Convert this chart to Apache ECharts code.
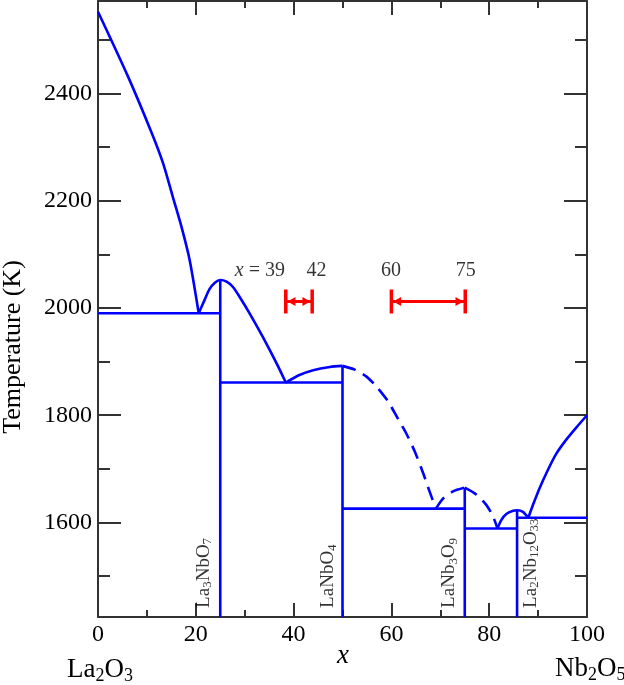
<!DOCTYPE html>
<html>
<head>
<meta charset="utf-8">
<script src="https://cdn.jsdelivr.net/npm/echarts@6/dist/echarts.min.js"></script>
<style>
html,body{margin:0;padding:0;background:#fff;}
#chart{width:624px;height:685px;}
</style>
</head>
<body>
<div id="chart"></div>
<script>
// ---------- data ----------
const xMin = 0, xMax = 100, xStep = 20;
const yMin = 1424, yMax = 2572;
const yMajorTicks = [1600, 1800, 2000, 2200, 2400];
const yMinorTicks = [1500, 1700, 1900, 2100, 2300, 2500];

// liquidus branches [x, T]
const liqLa2O3 = [[0,2552],[6.1,2432],[10.9,2328],[13.3,2270],[15.3,2207],[17.05,2152],[18.75,2089],[20.6,1990]];
const liqLa3NbO7 = [[20.6,1990],[21.8,2015],[22.8,2035],[23.9,2047],[25,2052],[26.3,2049],[27.6,2039],[29,2020],[31,1990],[33.7,1946],[36.5,1897],[38.4,1861]];
const liqLaNbO4L = [[38.4,1861],[41.2,1875],[44,1884],[47.4,1890],[50,1892]];
const liqLaNbO4R = [[50,1892],[52.5,1885],[54.9,1872],[56.9,1854],[59.3,1826],[61.3,1794],[63.1,1765],[64.8,1732],[66.5,1692],[67.8,1658],[69.1,1626]];
const liqLaNb3O9L = [[69.1,1626],[70.6,1645],[72.6,1658],[75,1665]];
const liqLaNb3O9R = [[75,1665],[77.4,1652],[79.4,1633],[80.8,1611],[81.7,1589]];
const liqLa2Nb12O33 = [[81.7,1589],[82.5,1605],[83.5,1616],[84.9,1622],[85.7,1623],[86.9,1620],[88,1609]];
const liqNb2O5 = [[88,1609],[89,1634],[90.3,1664],[92,1698],[93.7,1728],[95.8,1755],[97.8,1777],[100,1800]];

// solidus (eutectic) lines: [xStart, xEnd, T]
const solidus = [[0,25,1990],[25,50,1861],[50,75,1626],[75,85.7,1589],[85.7,100,1609]];

// compounds
const compoundNames = ['La3NbO7', 'LaNbO4', 'LaNb3O9', 'La2Nb12O33'];
const compoundX = [25, 50, 75, 85.7];
const compoundTop = [2052, 1892, 1665, 1623];
const compoundLabelX = [21.6, 47.1, 71.8, 88.5];
const compoundLabelT = [1441, 1441, 1441, 1441];

// red range arrows: [xStart, xEnd, T]
const arrowSpans = [[38.4, 43.8, 2012], [60, 75.1, 2012]];
const annoText = ['x = 39', '42', '60', '75'];
const annoX = [33.1, 44.7, 59.9, 75.2];
const annoT = [2070, 2070, 2070, 2070];

// ---------- chart ----------
const FONT = '"Liberation Serif", "Times New Roman", Times, serif';
const AX = '#333';
const BLUE = '#0000ff';
const RED = '#ff0000';

function chem(s) {
  return s.split(/(\d+)/).filter(t => t.length).map(t => /^\d+$/.test(t) ? '{s|' + t + '}' : '{m|' + t + '}').join('');
}

function lineSeries(data, dashed, smooth) {
  return {
    type: 'line', data: data, showSymbol: false, symbol: 'none', silent: true,
    animation: false, clip: false, z: 3,
    smooth: smooth ? 0.25 : false,
    lineStyle: { color: BLUE, width: 2.6, type: dashed ? [14, 8] : 'solid', join: 'round' }
  };
}

const series = [];
series.push(lineSeries(liqLa2O3, false, true));
series.push(lineSeries(liqLa3NbO7, false, true));
series.push(lineSeries(liqLaNbO4L, false, true));
series.push(lineSeries(liqLaNbO4R, true, true));
series.push(lineSeries(liqLaNb3O9L, true, true));
series.push(lineSeries(liqLaNb3O9R, true, true));
series.push(lineSeries(liqLa2Nb12O33, false, true));
series.push(lineSeries(liqNb2O5, false, true));
solidus.forEach(s => series.push(lineSeries([[s[0], s[2]], [s[1], s[2]]], false, false)));
compoundX.forEach((x, i) => series.push(lineSeries([[x, compoundTop[i]], [x, yMin]], false, false)));

series.push({
  type: 'custom', data: arrowSpans, silent: true, animation: false, z: 4, clip: false,
  renderItem: function (params, api) {
    const y = api.value(2);
    const p1 = api.coord([api.value(0), y]);
    const p2 = api.coord([api.value(1), y]);
    const bh = 12, bw = 3.5, ah = 8, aw = 4.5;
    return {
      type: 'group', children: [
        { type: 'line', shape: { x1: p1[0], y1: p1[1], x2: p2[0], y2: p2[1] }, style: { stroke: RED, lineWidth: 3 } },
        { type: 'rect', shape: { x: p1[0] - bw / 2, y: p1[1] - bh, width: bw, height: 2 * bh }, style: { fill: RED } },
        { type: 'rect', shape: { x: p2[0] - bw / 2, y: p2[1] - bh, width: bw, height: 2 * bh }, style: { fill: RED } },
        { type: 'polygon', shape: { points: [[p1[0] + bw / 2, p1[1]], [p1[0] + bw / 2 + ah, p1[1] - aw], [p1[0] + bw / 2 + ah, p1[1] + aw]] }, style: { fill: RED } },
        { type: 'polygon', shape: { points: [[p2[0] - bw / 2, p2[1]], [p2[0] - bw / 2 - ah, p2[1] - aw], [p2[0] - bw / 2 - ah, p2[1] + aw]] }, style: { fill: RED } }
      ]
    };
  }
});

series.push({
  type: 'scatter', silent: true, animation: false, symbolSize: 1, z: 5,
  itemStyle: { color: 'rgba(0,0,0,0)' },
  data: annoText.map((t, i) => ({ name: t, value: [annoX[i], annoT[i]] })),
  label: {
    show: true, position: 'inside', align: 'center', verticalAlign: 'middle',
    color: '#000', fontSize: 20, fontFamily: FONT,
    formatter: p => p.name.replace(/^x/, '{i|x}'),
    rich: { i: { fontStyle: 'italic', fontSize: 20, fontFamily: FONT, color: '#000' } }
  }
});

series.push({
  type: 'scatter', silent: true, animation: false, symbolSize: 1, z: 5,
  itemStyle: { color: 'rgba(0,0,0,0)' },
  data: compoundNames.map((n, i) => ({ name: n, value: [compoundLabelX[i], compoundLabelT[i]] })),
  label: {
    show: true, position: 'inside', rotate: 90, align: 'left', verticalAlign: 'middle',
    color: '#000', fontSize: 19, fontFamily: FONT,
    formatter: p => chem(p.name),
    rich: {
      m: { fontSize: 19, fontFamily: FONT, color: '#000' },
      s: { fontSize: 13, fontFamily: FONT, color: '#000', padding: [8, 0, 0, 0] }
    }
  }
});

const tickStyle = { color: AX, width: 2 };
function xAx(pos, labels) {
  return {
    type: 'value', min: xMin, max: xMax, interval: xStep, position: pos,
    axisLine: { show: true, onZero: false, lineStyle: { color: AX, width: 2 } },
    axisTick: { show: true, inside: true, length: 14, lineStyle: tickStyle },
    minorTick: { show: true, splitNumber: 2, length: 7, lineStyle: tickStyle },
    axisLabel: { show: labels, margin: 6, fontSize: 24, fontFamily: FONT, color: '#000', formatter: v => String(v) },
    splitLine: { show: false }, minorSplitLine: { show: false }
  };
}
function yAx(pos, major, line, labels) {
  const vals = major ? yMajorTicks : yMinorTicks;
  return {
    type: 'value', min: yMin, max: yMax, position: pos,
    axisLine: { show: line, onZero: false, lineStyle: { color: AX, width: 2 } },
    axisTick: { show: true, inside: true, length: major ? 23 : 12, customValues: vals, lineStyle: tickStyle },
    axisLabel: { show: labels, customValues: vals, margin: 6, fontSize: 24, fontFamily: FONT, color: '#000', formatter: v => String(v) },
    splitLine: { show: false }
  };
}

const chart = echarts.init(document.getElementById('chart'), null, { renderer: 'canvas' });
chart.setOption({
  backgroundColor: '#fff',
  animation: false,
  grid: { left: 98, right: 37, top: 1, bottom: 68 },
  xAxis: [xAx('bottom', true), xAx('top', false)],
  yAxis: [yAx('left', true, true, true), yAx('left', false, false, false), yAx('right', true, true, false), yAx('right', false, false, false)],
  series: series,
  graphic: [
    { type: 'text', x: 13, y: 347, rotation: Math.PI / 2, silent: true,
      style: { text: 'Temperature (K)', fontSize: 26, fontFamily: FONT, fill: '#000', align: 'center', verticalAlign: 'middle', textAlign: 'center', textVerticalAlign: 'middle' } },
    { type: 'text', x: 343, y: 656, silent: true,
      style: { text: 'x', fontSize: 27, fontStyle: 'italic', fontFamily: FONT, fill: '#000', align: 'center', verticalAlign: 'middle', textAlign: 'center', textVerticalAlign: 'middle' } },
    { type: 'text', x: 67, y: 670, silent: true,
      style: { text: chem('La2O3'), fill: '#000', fontSize: 27, fontFamily: FONT, align: 'left', verticalAlign: 'middle', textAlign: 'left', textVerticalAlign: 'middle',
        rich: { m: { fontSize: 27, fontFamily: FONT, fill: '#000' }, s: { fontSize: 18, fontFamily: FONT, fill: '#000', padding: [12, 0, 0, 0] } } } },
    { type: 'text', x: 555, y: 669, silent: true,
      style: { text: chem('Nb2O5'), fill: '#000', fontSize: 27, fontFamily: FONT, align: 'left', verticalAlign: 'middle', textAlign: 'left', textVerticalAlign: 'middle',
        rich: { m: { fontSize: 27, fontFamily: FONT, fill: '#000' }, s: { fontSize: 18, fontFamily: FONT, fill: '#000', padding: [12, 0, 0, 0] } } } }
  ]
});
</script>
</body>
</html>
